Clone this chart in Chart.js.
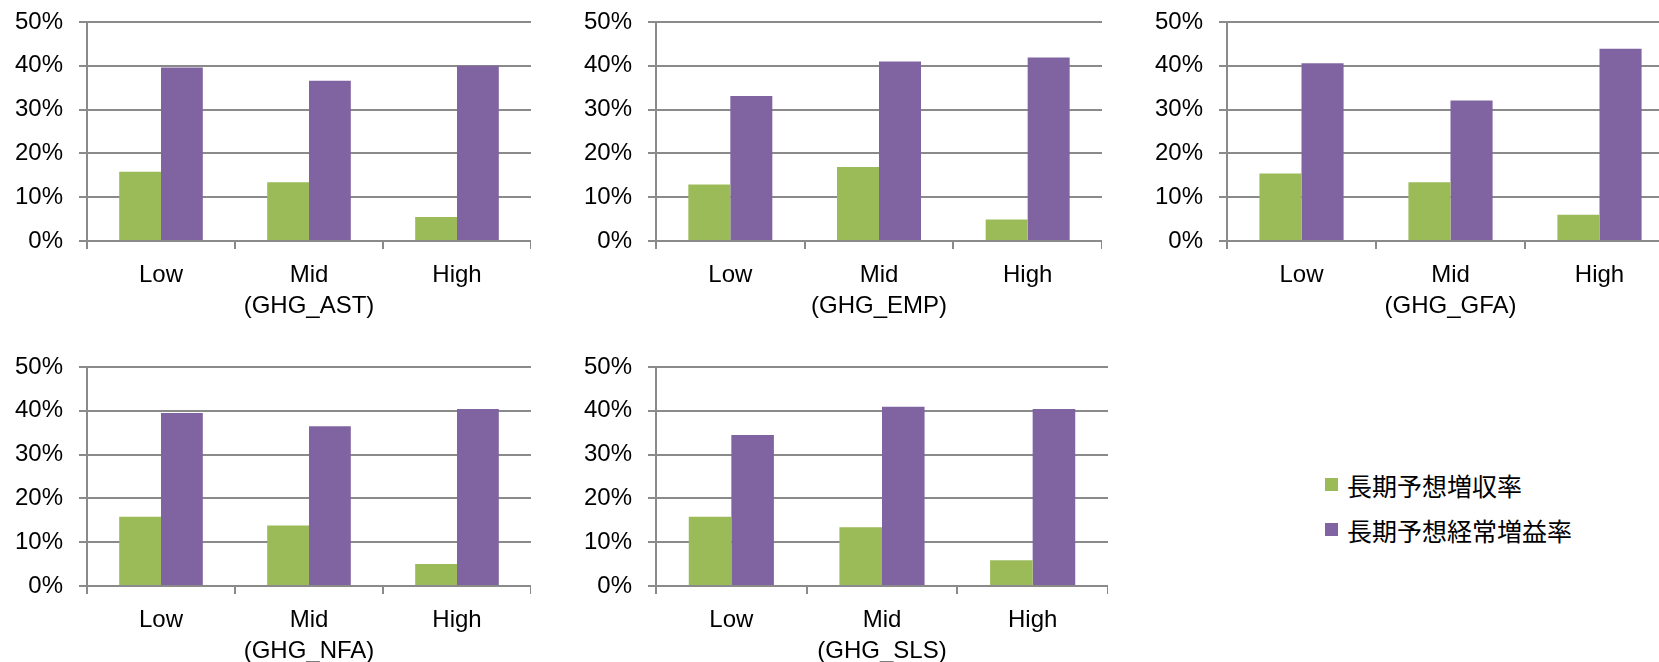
<!DOCTYPE html>
<html>
<head>
<meta charset="utf-8">
<script src="https://cdn.jsdelivr.net/npm/chart.js@4/dist/chart.umd.min.js"></script>
<style>
  html, body { margin:0; padding:0; background:#fff; }
  body { width:1659px; height:662px; overflow:hidden; position:relative; }
  canvas { position:absolute; }
  .legend { position:absolute; left:1325px; top:462px; font-family:"Noto Sans CJK JP", sans-serif; font-size:25px; color:#000; }
  .legend div { height:45px; display:flex; align-items:center; }
  .legend span.sw { display:inline-block; width:13px; height:13px; margin-right:9px; }
</style>
</head>
<body>
<div class="legend" id="legend"></div>
<script>
// series and categories
const seriesNames = ['長期予想増収率', '長期予想経常増益率'];
const seriesColors = ['#9BBB59', '#8064A2'];
const tiers = ['Low', 'Mid', 'High'];
const panelNames = ['GHG_AST', 'GHG_EMP', 'GHG_GFA', 'GHG_NFA', 'GHG_SLS'];
const yTicks = [0, 10, 20, 30, 40, 50];

// values in %
const salesGrowth = [
  [15.8, 13.4, 5.5],   // AST
  [12.9, 16.9, 4.9],   // EMP
  [15.4, 13.4, 6.0],   // GFA
  [15.8, 13.8, 5.0],   // NFA
  [15.8, 13.4, 5.9]    // SLS
];
const profitGrowth = [
  [39.6, 36.6, 40.0],
  [33.1, 41.0, 41.9],
  [40.6, 32.1, 43.9],
  [39.5, 36.5, 40.4],
  [34.5, 40.9, 40.4]
];

// canvas boxes: left, top, width, height
// (y scale reserves 30px above the plot for its top label + padding)
const boxes = [
  [0,    -8,  531, 339],
  [569,  -8,  533, 339],
  [1140, -8,  534, 339],
  [0,    337, 531, 339],
  [569,  337, 539, 339]
];

const GRID = '#8a8a8a';
const FONT = { family: '"Liberation Sans", Arial, sans-serif', size: 24, lineHeight: '28px' };

panelNames.forEach((name, i) => {
  const b = boxes[i];
  const cv = document.createElement('canvas');
  cv.width = b[2]; cv.height = b[3];
  cv.style.left = b[0] + 'px'; cv.style.top = b[1] + 'px';
  document.body.appendChild(cv);

  const labels = tiers.map(t => t === 'Mid' ? ['Mid', '(' + name + ')'] : t);
  new Chart(cv.getContext('2d'), {
    type: 'bar',
    data: {
      labels,
      datasets: [
        { label: seriesNames[0], data: salesGrowth[i], backgroundColor: seriesColors[0] },
        { label: seriesNames[1], data: profitGrowth[i], backgroundColor: seriesColors[1] }
      ]
    },
    options: {
      responsive: false,
      animation: false,
      layout: { padding: 0 },
      datasets: { bar: { categoryPercentage: 0.565, barPercentage: 1.0, borderWidth: 0 } },
      plugins: { legend: { display: false }, tooltip: { enabled: false } },
      scales: {
        x: {
          grid: { display: true, drawOnChartArea: false, drawTicks: true, tickLength: 8, color: GRID, lineWidth: 2, offset: true },
          border: { display: true, color: GRID, width: 2 },
          ticks: { color: '#000', font: { ...FONT, lineHeight: '31px' }, padding: 11, maxRotation: 0, autoSkip: false },
          afterFit: s => { s.height = 90; }
        },
        y: {
          min: 0, max: 50,
          afterBuildTicks: s => { s.ticks = yTicks.map(v => ({ value: v })); },
          grid: { color: GRID, lineWidth: 2, tickLength: 8 },
          border: { display: true, color: GRID, width: 2 },
          ticks: { color: '#000', font: FONT, padding: 16, callback: v => v + '%' },
          afterFit: s => { s.width = 87; }
        }
      }
    }
  });
});

// legend
const lg = document.getElementById('legend');
seriesNames.forEach((n, k) => {
  const row = document.createElement('div');
  row.innerHTML = '<span class="sw" style="background:' + seriesColors[k] + '"></span>' + n;
  lg.appendChild(row);
});
</script>
</body>
</html>
